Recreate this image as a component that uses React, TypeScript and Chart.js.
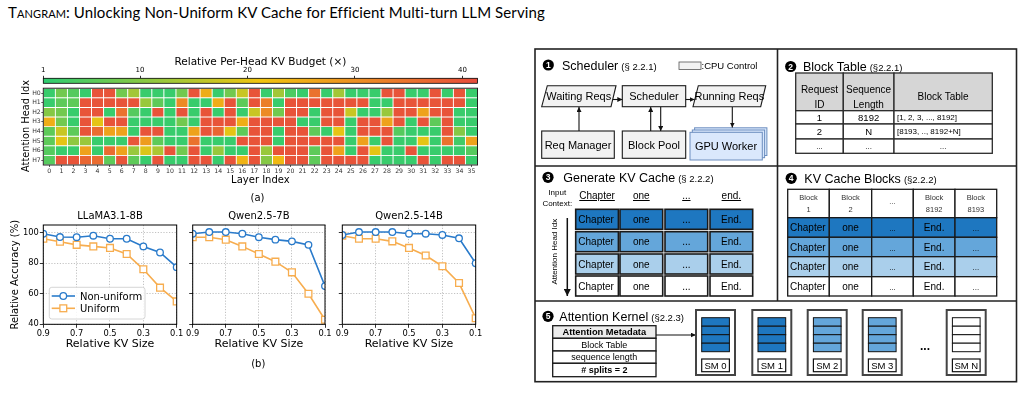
import React, { useEffect, useRef } from 'react';
import { Chart, registerables } from 'chart.js';

Chart.register(...registerables);

// ---------------- DATA ----------------
const layerLabels = ['0','1','2','3','4','5','6','7','8','9','10','11','12','13','14','15','16','17','18','19','20','21','22','23','24','25','26','27','28','29','30','31','32','33','34','35'];
const headLabels = ['H0','H1','H2','H3','H4','H5','H6','H7'];

const budgetH0 = [2,8,5,2,40,40,8,13,2,2,2,8,40,25,2,8,17,40,2,13,4,2,35,2,13,2,2,2,40,40,2,2,40,2,40,2];
const budgetH1 = [2,6,6,40,40,40,40,40,12,6,2,31,2,2,25,40,6,40,33,2,40,40,40,40,40,40,40,2,2,40,40,40,40,40,40,2];
const budgetH2 = [10,8,2,40,40,2,35,5,2,40,2,40,2,40,2,40,2,17,31,8,40,40,2,40,40,17,2,2,12,40,40,27,40,40,2,2];
const budgetH3 = [25,8,2,40,20,40,40,2,2,2,2,8,2,40,40,40,25,40,40,40,40,2,2,40,40,2,40,40,27,40,2,40,6,40,2,2];
const budgetH4 = [6,17,6,40,36,27,27,2,40,40,2,2,27,40,37,20,6,40,40,2,40,40,6,2,20,2,40,40,40,5,2,2,2,40,10,2];
const budgetH5 = [6,20,11,12,2,2,2,40,28,6,2,2,35,2,2,2,40,40,40,2,40,40,40,40,40,2,27,2,40,2,2,20,2,35,3,27];
const budgetH6 = [5,2,2,27,2,36,27,12,19,14,40,8,40,2,12,2,2,40,12,40,40,40,6,40,27,2,40,20,2,2,40,2,2,2,2,5];
const budgetH7 = [5,40,40,37,36,6,40,6,2,40,2,2,40,40,2,40,24,40,10,23,40,40,6,40,40,40,40,2,2,2,2,40,2,40,40,2];
const budgetRows = [budgetH0, budgetH1, budgetH2, budgetH3, budgetH4, budgetH5, budgetH6, budgetH7];
const budgetTicks = [1, 10, 20, 30, 40];
const budgetRange = [1, 41.4];

const kvSizes = [0.9, 0.8, 0.7, 0.6, 0.5, 0.4, 0.3, 0.2, 0.1];
const kvTicks = [0.9, 0.7, 0.5, 0.3, 0.1];
const accTicks = [40, 60, 80, 100];
const llamaNonUniform = [99.3, 97.1, 97, 98, 96, 96, 91, 87, 77.4];
const llamaUniform = [96, 94, 92, 91, 90, 86, 76, 64, 55];
const qwen7NonUniform = [99.3, 100.4, 100.4, 99.3, 97, 95.4, 94.3, 92, 65];
const qwen7Uniform = [97, 97, 95.4, 91, 86, 81, 74, 60, 43];
const qwen14NonUniform = [98.5, 100.4, 100.4, 100.4, 99.3, 99.3, 98.5, 96.3, 80];
const qwen14Uniform = [98, 96, 96, 94.3, 90, 85, 78, 67, 44];
const seriesNames = ['Non-uniform', 'Uniform'];

// ---------------- STYLE ----------------
const MPL = "'DejaVu Sans', sans-serif";
const ARIAL = "'Liberation Sans', Arial, sans-serif";
const BLUE = '#2a7bcb';
const ORANGE = '#f7ad4f';
const CMAP = [[46, 204, 113], [241, 196, 15], [231, 76, 60]];
const KV_FILLS = ['#1e77c0', '#64a6da', '#aacfeb', '#ffffff'];

function budgetColor(v: number) {
  const t = Math.min(1, Math.max(0, (v - budgetRange[0]) / (budgetRange[1] - budgetRange[0])));
  const seg = t < 0.5 ? 0 : 1;
  const u = t < 0.5 ? t / 0.5 : (t - 0.5) / 0.5;
  const a = CMAP[seg], b = CMAP[seg + 1];
  const c = a.map((x, i) => Math.round(x + (b[i] - x) * u));
  return `rgb(${c[0]},${c[1]},${c[2]})`;
}

const framePlugin = {
  id: 'frame',
  afterDraw(chart: any, _args: any, opts: any) {
    const { ctx, chartArea } = chart;
    if (!chartArea) return;
    ctx.save();
    ctx.strokeStyle = opts.color || '#000';
    ctx.lineWidth = opts.width || 1;
    ctx.strokeRect(chartArea.left, chartArea.top, chartArea.right - chartArea.left, chartArea.bottom - chartArea.top);
    ctx.restore();
  },
};

function colorbarConfig(): any {
  return {
    type: 'bar',
    data: {
      labels: ['budget'],
      datasets: [{
        data: [[budgetRange[0], budgetRange[1]]],
        backgroundColor: (c: any) => {
          const area = c.chart.chartArea;
          if (!area) return budgetColor(20);
          const g = c.chart.ctx.createLinearGradient(area.left, 0, area.right, 0);
          g.addColorStop(0, budgetColor(budgetRange[0]));
          g.addColorStop(0.5, budgetColor((budgetRange[0] + budgetRange[1]) / 2));
          g.addColorStop(1, budgetColor(budgetRange[1]));
          return g;
        },
        borderWidth: 0,
        barPercentage: 1,
        categoryPercentage: 1,
      }],
    },
    options: {
      indexAxis: 'y',
      responsive: false,
      animation: false,
      events: [],
      layout: { padding: { left: 43.3, right: 22.5, top: 0, bottom: 0.7 } },
      plugins: { legend: { display: false }, tooltip: { enabled: false }, frame: { color: '#000', width: 0.8 } },
      scales: {
        x: {
          type: 'linear', position: 'top', min: budgetRange[0], max: budgetRange[1],
          afterBuildTicks: (a: any) => { a.ticks = budgetTicks.map(v => ({ value: v })); },
          afterFit: (s: any) => { s.height = 28.3; },
          grid: { drawOnChartArea: false, tickLength: 2.5, tickColor: '#000', tickWidth: 0.8 },
          border: { display: false },
          ticks: { color: '#000', font: { family: MPL, size: 7 }, padding: 1.5, maxRotation: 0, autoSkip: false, callback: (v: any) => String(v) },
          title: { display: true, text: 'Relative Per-Head KV Budget (×)', color: '#000', font: { family: MPL, size: 10.5 }, padding: { top: 5.7, bottom: 0 } },
        },
        y: { type: 'category', display: false },
      },
    },
    plugins: [framePlugin],
  };
}

function heatmapConfig(): any {
  return {
    type: 'bar',
    data: {
      labels: layerLabels,
      datasets: budgetRows.map((row, h) => ({
        label: headLabels[h],
        data: row.map(() => [7 - h, 8 - h]),
        backgroundColor: row.map(budgetColor),
        borderColor: '#ffffff',
        borderWidth: 0.8,
        borderSkipped: false,
        barPercentage: 1,
        categoryPercentage: 1,
        grouped: false,
      })),
    },
    options: {
      responsive: false,
      animation: false,
      events: [],
      layout: { padding: { left: 0, right: 22.5, top: 2.8, bottom: 0 } },
      plugins: { legend: { display: false }, tooltip: { enabled: false }, frame: { color: '#222', width: 1 } },
      scales: {
        x: {
          type: 'category', offset: true,
          grid: { offset: false, drawOnChartArea: false, drawTicks: true, tickLength: 2, tickColor: '#333', tickWidth: 0.8 },
          border: { display: false },
          ticks: { color: '#333', font: { family: MPL, size: 6.2 }, padding: 0.5, maxRotation: 0, autoSkip: false },
          title: { display: true, text: 'Layer Index', color: '#000', font: { family: MPL, size: 10 }, padding: { top: 0, bottom: 4 } },
          afterFit: (s: any) => { s.height = 25; },
        },
        y: {
          type: 'linear', min: 0, max: 8,
          afterBuildTicks: (a: any) => { a.ticks = headLabels.map((_, i) => ({ value: i + 0.5 })); },
          afterFit: (s: any) => { s.width = 43.3; },
          grid: { drawOnChartArea: false, tickLength: 2, tickColor: '#333', tickWidth: 0.8 },
          border: { display: false },
          ticks: { color: '#333', font: { family: MPL, size: 6.2 }, padding: 0.5, autoSkip: false, callback: (v: any) => headLabels[Math.round(7.5 - v)] },
          title: { display: false },
        },
      },
    },
    plugins: [framePlugin],
  };
}

function lineConfig(title: string, nonUni: number[], uni: number[], yWidth: number, rightPad: number, showY: boolean): any {
  const grid = { color: '#b3b3b3', lineWidth: 0.8, tickLength: 3.5, tickColor: '#000', tickWidth: 0.8, tickBorderDash: [] };
  const border = { display: false, dash: [1.2, 1.6] };
  return {
    type: 'line',
    data: {
      datasets: [
        {
          label: seriesNames[0],
          data: kvSizes.map((x, i) => ({ x, y: nonUni[i] })),
          borderColor: BLUE, borderWidth: 1.6, tension: 0,
          pointStyle: 'circle', pointRadius: 3.3, pointBorderWidth: 1.3,
          pointBorderColor: BLUE, pointBackgroundColor: '#ffffff', clip: 0,
        },
        {
          label: seriesNames[1],
          data: kvSizes.map((x, i) => ({ x, y: uni[i] })),
          borderColor: ORANGE, borderWidth: 1.6, tension: 0,
          pointStyle: 'rect', pointRadius: 4.8, pointBorderWidth: 1.3,
          pointBorderColor: ORANGE, pointBackgroundColor: '#ffffff', clip: 0,
        },
      ],
    },
    options: {
      responsive: false,
      animation: false,
      events: [],
      layout: { padding: { left: 0, right: rightPad, top: 0, bottom: 0 } },
      plugins: {
        legend: { display: false },
        tooltip: { enabled: false },
        title: { display: true, text: title, fullSize: false, color: '#000', font: { family: MPL, size: 10, weight: 'normal' }, padding: { top: 5.7, bottom: 2.3 } },
        frame: { color: '#000', width: 1 },
      },
      scales: {
        x: {
          type: 'linear', reverse: true, min: 0.1, max: 0.9,
          afterBuildTicks: (a: any) => { a.ticks = kvTicks.map(v => ({ value: v })); },
          afterFit: (s: any) => { s.height = 30.7; },
          ticks: { color: '#000', font: { family: MPL, size: 8.3 }, padding: 1.5, maxRotation: 0, autoSkip: false, callback: (v: any) => Number(v).toFixed(1) },
          grid, border,
          title: { display: true, text: 'Relative KV Size', color: '#000', font: { family: MPL, size: 11 }, padding: { top: 0, bottom: 4.4 } },
        },
        y: {
          type: 'linear', min: 40, max: 105,
          afterBuildTicks: (a: any) => { a.ticks = accTicks.map(v => ({ value: v })); },
          afterFit: (s: any) => { s.width = yWidth; },
          ticks: { display: showY, color: '#000', font: { family: MPL, size: 8.3 }, padding: 1, autoSkip: false },
          grid, border,
          title: { display: showY, text: 'Relative Accuracy (%)', color: '#000', font: { family: MPL, size: 10 }, padding: { top: 9, bottom: 0 } },
        },
      },
    },
    plugins: [framePlugin],
  };
}

// ---------------- DIAGRAM HELPERS ----------------
function Badge({ x, y, n }: any) {
  return (
    <g>
      <circle cx={x} cy={y} r={5.6} fill="#000" />
      <text x={x} y={y + 3.1} textAnchor="middle" fontSize={8.5} fontWeight="bold" fill="#fff" fontFamily={ARIAL}>{n}</text>
    </g>
  );
}
function STitle({ x, y, main, sec }: any) {
  return (
    <text x={x} y={y} fontFamily={ARIAL} fontSize={12.5} fill="#000">
      {main}
      <tspan dx={3} fontSize={9.5}>{sec}</tspan>
    </text>
  );
}
function T({ children, ...p }: any) {
  return <text fontFamily={ARIAL} fill="#000" {...p}>{children}</text>;
}

const genTokens = ['Chapter', 'one', '...', 'End.'];
const inputTokens = ['Chapter', 'one', '...', 'end.'];
const genCols = [575.7, 620, 665, 710];
const genRows = [209.3, 231.7, 254, 276];
const blkCols = [787.7, 829.3, 871.7, 913.3, 955, 996.7];
const blkRows = [189.3, 217.7, 237.3, 256.7, 276.7, 296];
const blkHead1 = ['Block', 'Block', '', 'Block', 'Block'];
const blkHead2 = ['1', '2', '', '8192', '8193'];
const blkTokens = ['Chapter', 'one', '...', 'End.', '...'];
const btCols = [795.7, 843.3, 894, 992.3];
const btRows = [73, 110.7, 124, 139, 153.3];
const btBody = [['1', '8192', '[1, 2, 3, ..., 8192]'], ['2', 'N', '[8193, .., 8192+N]'], ['...', '...', '...']];
const smLefts = [696, 752.3, 807.7, 862.7, 946.7];
const smLabels = ['SM 0', 'SM 1', 'SM 2', 'SM 3', 'SM N'];
const smFills = [KV_FILLS[0], KV_FILLS[0], KV_FILLS[1], KV_FILLS[1], KV_FILLS[3]];
const metaRows = [325.7, 338.3, 351, 363.3, 376.7];
const metaText = ['Attention Metadata', 'Block Table', 'sequence length', '# splits = 2'];

function Diagram() {
  const stroke = '#1a1a1a';
  const boxFill = '#f2f2f2';
  return (
    <g>
      <defs>
        <marker id="arr" viewBox="0 0 10 10" refX="10" refY="5" markerWidth="5" markerHeight="5" markerUnits="userSpaceOnUse" orient="auto">
          <path d="M0,0 L10,5 L0,10 z" fill="#111" />
        </marker>
        <marker id="arrBig" viewBox="0 0 10 10" refX="10" refY="5" markerWidth="7" markerHeight="7" markerUnits="userSpaceOnUse" orient="auto">
          <path d="M0,0 L10,5 L0,10 z" fill="#111" />
        </marker>
      </defs>
      {/* frame */}
      <rect x={535} y={49} width={481.5} height={332.7} fill="none" stroke="#222" strokeWidth={1.6} />
      <line x1={777.5} y1={49} x2={777.5} y2={301} stroke="#222" strokeWidth={1.6} />
      <line x1={535} y1={166} x2={1016.5} y2={166} stroke="#222" strokeWidth={1.6} />
      <line x1={535} y1={301} x2={1016.5} y2={301} stroke="#222" strokeWidth={1.6} />

      {/* Section 1 */}
      <Badge x={548.3} y={65} n="1" />
      <STitle x={562} y={69.5} main="Scheduler" sec="(§ 2.2.1)" />
      <rect x={679} y={62} width={22} height={7.5} fill={boxFill} stroke="#555" strokeWidth={0.8} />
      <T x={701.5} y={68.6} fontSize={9.5}>:CPU Control</T>
      <polygon points="547.3,85.7 616,85.7 611,106.7 541.7,106.7" fill={boxFill} stroke={stroke} strokeWidth={1.1} />
      <T x={578.7} y={100} fontSize={11} textAnchor="middle">Waiting Reqs</T>
      <rect x={622.3} y={85.7} width={63.4} height={21} fill={boxFill} stroke={stroke} strokeWidth={1.1} />
      <T x={654} y={100} fontSize={11} textAnchor="middle">Scheduler</T>
      <polygon points="698.3,85.7 765.7,85.7 760.7,106.7 693,106.7" fill={boxFill} stroke={stroke} strokeWidth={1.1} />
      <T x={729.3} y={100} fontSize={11} textAnchor="middle">Running Reqs</T>
      <rect x={541.7} y={131} width={72.6} height={27.3} fill={boxFill} stroke={stroke} strokeWidth={1.1} />
      <T x={578} y={149} fontSize={11} textAnchor="middle">Req Manager</T>
      <rect x={622.3} y={131} width={63.4} height={27.3} fill={boxFill} stroke={stroke} strokeWidth={1.1} />
      <T x={654} y={149} fontSize={11} textAnchor="middle">Block Pool</T>
      <rect x={694.6} y={127.8} width={72.3} height={27.7} fill="#dae8fc" stroke="#6c8ebf" strokeWidth={1} />
      <rect x={692.3} y={130} width={72.3} height={27.7} fill="#dae8fc" stroke="#6c8ebf" strokeWidth={1} />
      <rect x={690} y={132.3} width={72.3} height={27.7} fill="#dae8fc" stroke="#6c8ebf" strokeWidth={1} />
      <T x={726} y={150} fontSize={11} textAnchor="middle">GPU Worker</T>
      <line x1={612.8} y1={99.5} x2={622.3} y2={99.5} stroke="#111" strokeWidth={1.1} markerEnd="url(#arr)" />
      <line x1={685.7} y1={99.5} x2={694.6} y2={99.5} stroke="#111" strokeWidth={1.1} markerEnd="url(#arr)" />
      <line x1={579} y1={131} x2={579} y2={107} stroke="#111" strokeWidth={1.1} markerEnd="url(#arr)" />
      <line x1={650.7} y1={131} x2={650.7} y2={107} stroke="#111" strokeWidth={1.1} markerEnd="url(#arr)" />
      <line x1={660.7} y1={107} x2={660.7} y2={131} stroke="#111" strokeWidth={1.1} markerEnd="url(#arr)" />
      <line x1={732.3} y1={107} x2={732.3} y2={127.5} stroke="#111" strokeWidth={1.1} markerEnd="url(#arr)" />

      {/* Section 2 */}
      <Badge x={790.7} y={66.5} n="2" />
      <STitle x={803} y={70.5} main="Block Table" sec="(§2.2.1)" />
      {btRows.slice(0, -1).map((y, r) => btCols.slice(0, -1).map((x, c) => (
        <rect key={`bt${r}-${c}`} x={x} y={y} width={btCols[c + 1] - x} height={btRows[r + 1] - y} fill={r === 0 ? '#d6d6d6' : '#fff'} stroke="#2b2b2b" strokeWidth={1.3} />
      )))}
      <T x={819.5} y={93} fontSize={10} textAnchor="middle">Request</T>
      <T x={819.5} y={107.5} fontSize={10} textAnchor="middle">ID</T>
      <T x={868.6} y={93} fontSize={10} textAnchor="middle">Sequence</T>
      <T x={868.6} y={107.5} fontSize={10} textAnchor="middle">Length</T>
      <T x={943.1} y={100.3} fontSize={10} textAnchor="middle">Block Table</T>
      {btBody.map((row, r) => {
        const yc = (btRows[r + 1] + btRows[r + 2]) / 2;
        const dots = row[0] === '...';
        return (
          <g key={`btb${r}`}>
            <T x={(btCols[0] + btCols[1]) / 2} y={yc + 3.3} fontSize={dots ? 8 : 9.5} textAnchor="middle">{row[0]}</T>
            <T x={(btCols[1] + btCols[2]) / 2} y={yc + 3.3} fontSize={dots ? 8 : 9.5} textAnchor="middle">{row[1]}</T>
            {dots
              ? <T x={(btCols[2] + btCols[3]) / 2} y={yc + 3.3} fontSize={8} textAnchor="middle">{row[2]}</T>
              : <T x={897} y={yc + 2.8} fontSize={8}>{row[2]}</T>}
          </g>
        );
      })}

      {/* Section 3 */}
      <Badge x={548} y={177.3} n="3" />
      <STitle x={563.3} y={181.5} main="Generate KV Cache" sec="(§ 2.2.2)" />
      <T x={557.3} y={194.8} fontSize={8} textAnchor="middle">Input</T>
      <T x={557.3} y={205.5} fontSize={8} textAnchor="middle">Context:</T>
      {inputTokens.map((tk, i) => (
        <T key={`in${i}`} x={genCols[i] + 21.35} y={199} fontSize={10} textAnchor="middle" textDecoration="underline">{tk}</T>
      ))}
      {genRows.map((y, r) => genCols.map((x, c) => (
        <g key={`g${r}-${c}`}>
          <rect x={x} y={y} width={42.7} height={20} fill={KV_FILLS[r]} stroke={stroke} strokeWidth={1.6} />
          {c === 0
            ? <T x={x + 2.6} y={y + 13.6} fontSize={10}>{genTokens[c]}</T>
            : <T x={x + 21.35} y={y + 13.6} fontSize={10} textAnchor="middle">{genTokens[c]}</T>}
        </g>
      )))}
      <T transform="translate(554,251.7) rotate(-90)" x={0} y={3} fontSize={8} textAnchor="middle">Attention Head Idx</T>
      <line x1={567.3} y1={218} x2={567.3} y2={296} stroke="#111" strokeWidth={1.5} markerEnd="url(#arrBig)" />

      {/* Section 4 */}
      <Badge x={791.2} y={178.3} n="4" />
      <STitle x={804.3} y={182.5} main="KV Cache Blocks" sec="(§2.2.2)" />
      {blkRows.slice(0, -1).map((y, r) => blkCols.slice(0, -1).map((x, c) => {
        const w = blkCols[c + 1] - x;
        const h = blkRows[r + 1] - y;
        const fill = r === 0 ? '#fff' : KV_FILLS[r - 1];
        return (
          <g key={`b${r}-${c}`}>
            <rect x={x} y={y} width={w} height={h} fill={fill} stroke={stroke} strokeWidth={1.3} />
            {r === 0 ? (
              c === 2
                ? <T x={x + w / 2} y={y + 15} fontSize={7.5} fill="#333" textAnchor="middle">...</T>
                : <g>
                    <T x={x + w / 2} y={y + 10.2} fontSize={7.5} fill="#333" textAnchor="middle">{blkHead1[c]}</T>
                    <T x={x + w / 2} y={y + 22.7} fontSize={7.5} fill="#333" textAnchor="middle">{blkHead2[c]}</T>
                  </g>
            ) : (
              c === 0
                ? <T x={x + 2.3} y={y + h / 2 + 3.6} fontSize={10}>{blkTokens[c]}</T>
                : <T x={x + w / 2} y={y + h / 2 + 3.6} fontSize={blkTokens[c] === '...' ? 8 : 10} textAnchor="middle">{blkTokens[c]}</T>
            )}
          </g>
        );
      }))}

      {/* Section 5 */}
      <Badge x={548} y={316.3} n="5" />
      <STitle x={559.3} y={320.5} main="Attention Kernel" sec="(§2.2.3)" />
      {metaRows.slice(0, -1).map((y, r) => (
        <g key={`m${r}`}>
          <rect x={552.7} y={y} width={103.3} height={metaRows[r + 1] - y} fill={r === 0 ? '#ececec' : '#fff'} stroke={stroke} strokeWidth={1.3} />
          <T x={604.3} y={(y + metaRows[r + 1]) / 2 + 3.3} fontSize={r === 0 ? 9.3 : 9} fontWeight={r === 0 || r === 3 ? 'bold' : 'normal'} textAnchor="middle">{metaText[r]}</T>
        </g>
      ))}
      <line x1={656} y1={335} x2={695.7} y2={335} stroke="#111" strokeWidth={1.1} markerEnd="url(#arr)" />
      {smLefts.map((x, i) => (
        <g key={`sm${i}`}>
          <rect x={x} y={310} width={39} height={65} fill="#fff" stroke="#444" strokeWidth={2} />
          {[0, 1, 2, 3].map(k => (
            <rect key={k} x={x + 5.7} y={317.7 + k * 8.5} width={27.7} height={8.5} fill={smFills[i]} stroke="#111" strokeWidth={1} />
          ))}
          <rect x={x + 5.7} y={359} width={27.7} height={12.7} fill="#fff" stroke="#111" strokeWidth={1.2} />
          <T x={x + 19.55} y={368.9} fontSize={9.5} textAnchor="middle">{smLabels[i]}</T>
        </g>
      ))}
      <T x={925} y={350} fontSize={12} fontWeight="bold" textAnchor="middle">...</T>
    </g>
  );
}

function Legend() {
  return (
    <g>
      <rect x={49.3} y={287.3} width={95.7} height={31.7} rx={2.5} fill="#fff" fillOpacity={0.85} stroke="#cccccc" strokeWidth={0.8} />
      <line x1={51.7} y1={296} x2={75} y2={296} stroke={BLUE} strokeWidth={1.6} />
      <circle cx={63.3} cy={296} r={3.3} fill="#fff" stroke={BLUE} strokeWidth={1.3} />
      <text x={80} y={299.6} fontFamily={MPL} fontSize={10} fill="#000">{seriesNames[0]}</text>
      <line x1={51.7} y1={308.3} x2={75} y2={308.3} stroke={ORANGE} strokeWidth={1.6} />
      <rect x={59.9} y={304.9} width={6.8} height={6.8} fill="#fff" stroke={ORANGE} strokeWidth={1.3} />
      <text x={80} y={311.9} fontFamily={MPL} fontSize={10} fill="#000">{seriesNames[1]}</text>
    </g>
  );
}

export default function App() {
  const cbRef = useRef<HTMLCanvasElement>(null);
  const hmRef = useRef<HTMLCanvasElement>(null);
  const l1Ref = useRef<HTMLCanvasElement>(null);
  const l2Ref = useRef<HTMLCanvasElement>(null);
  const l3Ref = useRef<HTMLCanvasElement>(null);

  useEffect(() => {
    const charts: Chart[] = [];
    charts.push(new Chart(cbRef.current as any, colorbarConfig()));
    charts.push(new Chart(hmRef.current as any, heatmapConfig()));
    charts.push(new Chart(l1Ref.current as any, lineConfig('LLaMA3.1-8B', llamaNonUniform, llamaUniform, 43.3, 18.3, true)));
    charts.push(new Chart(l2Ref.current as any, lineConfig('Qwen2.5-7B', qwen7NonUniform, qwen7Uniform, 42.7, 20, false)));
    charts.push(new Chart(l3Ref.current as any, lineConfig('Qwen2.5-14B', qwen14NonUniform, qwen14Uniform, 42.3, 19.3, false)));
    return () => { charts.forEach(c => c.destroy()); };
  }, []);

  const abs = (left: number, top: number, w: number, h: number): any => ({ position: 'absolute', left, top, width: w, height: h });

  return (
    <div style={{ position: 'absolute', left: 0, top: 0, width: 1019, height: 401, overflow: 'hidden', background: '#fff' }}>
      <div style={{ position: 'absolute', left: 8, top: 4, fontFamily: "Lato, 'Open Sans', sans-serif", fontSize: 15, lineHeight: '17px', letterSpacing: '0.1px', color: '#000', whiteSpace: 'nowrap' }}>
        <span style={{ fontVariant: 'small-caps' }}>Tangram</span>: Unlocking Non-Uniform KV Cache for Efficient Multi-turn LLM Serving
      </div>
      <canvas ref={cbRef} width={500} height={34} style={abs(0, 50, 500, 34)} />
      <canvas ref={hmRef} width={500} height={106} style={abs(0, 84, 500, 106)} />
      <canvas ref={l1Ref} width={195} height={150} style={abs(0, 205, 195, 150)} />
      <canvas ref={l2Ref} width={195} height={150} style={abs(150, 205, 195, 150)} />
      <canvas ref={l3Ref} width={195} height={150} style={abs(300, 205, 195, 150)} />
      <svg width={1019} height={401} style={{ position: 'absolute', left: 0, top: 0, pointerEvents: 'none' }}>
        <text transform="translate(25,126) rotate(-90)" x={0} y={3.6} fontFamily={MPL} fontSize={9.8} textAnchor="middle" fill="#000">Attention Head Idx</text>
        <text x={257.5} y={200.5} fontFamily={MPL} fontSize={10} textAnchor="middle" fill="#000">(a)</text>
        <text x={258.3} y={367} fontFamily={MPL} fontSize={10} textAnchor="middle" fill="#000">(b)</text>
        <Legend />
        <Diagram />
      </svg>
    </div>
  );
}
